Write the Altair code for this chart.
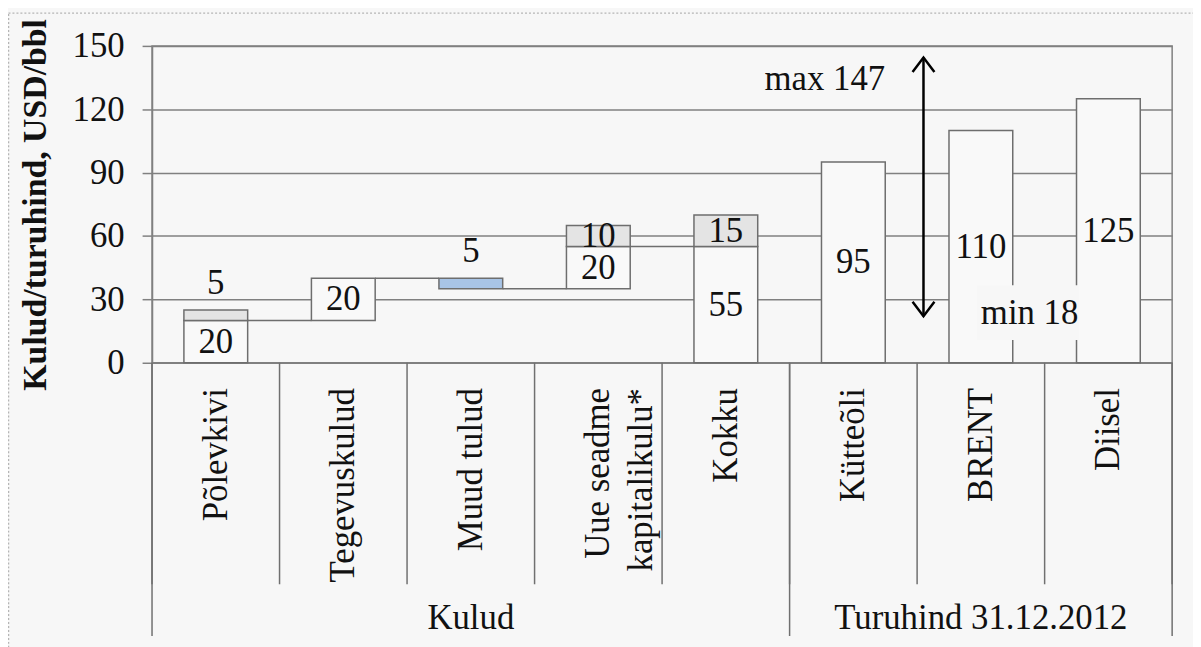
import altair as alt
import pandas as pd

# ---------------- data ----------------
categories = ["Põlevkivi", "Tegevuskulud", "Muud tulud", "Uue seadme\nkapitalikulu*",
              "Kokku", "Kütteõli", "BRENT", "Diisel"]
groups = ["Kulud", "Turuhind 31.12.2012"]
group_start = [0, 5]
group_end = [5, 8]

# bar segments (category index, start, end, kind, where the value label sits)
seg_cat = [0, 0, 1, 2, 3, 3, 4, 4, 5, 6, 7]
seg_start = [0, 20, 20, 35, 35, 55, 0, 55, 0, 0, 0]
seg_end = [20, 25, 40, 40, 55, 65, 55, 70, 95, 110, 125]
seg_kind = ["base", "extra", "base", "income", "base", "extra", "base", "extra", "base", "base", "base"]
seg_label_pos = ["in", "above", "in", "above", "in", "in", "in", "in", "in", "in", "in"]

# connector lines between neighbouring bars
connector_from = [0, 1, 2, 3]
connector_level = [20, 40, 35, 55]

y_ticks = [0, 30, 60, 90, 120, 150]

# price range annotation
price_max = 147
price_min = 18
arrow_top = 144.5      # where the drawn arrow tips sit
arrow_bottom = 22
arrow_pos = 6.05       # in category units
max_text_pos, max_text_y = 5.75, 134.5
min_text_pos, min_text_y = 6.5, 23.5
min_box = (6.47, 7.27, 10.8, 36.7)

# ---------------- styling ----------------
W, H = 1027, 319
FONT = "Liberation Serif"
FS = 35
TXT = "#111111"
LINE = "#6e6e6e"
BG = "#f7f7f7"
YTITLE = "Kulud/turuhind, USD/bbl"

seg_df = pd.DataFrame({
    "cat": [categories[i] for i in seg_cat],
    "start": seg_start,
    "end": seg_end,
    "kind": seg_kind,
    "lpos": seg_label_pos,
})
seg_df["value"] = seg_df["end"] - seg_df["start"]
seg_df["mid"] = (seg_df["start"] + seg_df["end"]) / 2

conn_df = pd.DataFrame({
    "x0": [i + 0.75 for i in connector_from],
    "x1": [i + 1.25 for i in connector_from],
    "level": connector_level,
})

bounds_df = pd.DataFrame({"pos": list(range(len(categories) + 1))})
edges_df = pd.DataFrame({"pos": sorted(set(group_start + group_end))})
grp_df = pd.DataFrame({"name": groups, "s": group_start, "e": group_end})
grp_df["c"] = (grp_df["s"] + grp_df["e"]) / 2

arrow_df = pd.DataFrame({"pos": [arrow_pos], "top": [arrow_top], "bottom": [arrow_bottom]})
heads_df = pd.DataFrame({"pos": [arrow_pos, arrow_pos], "y": [arrow_top, arrow_bottom],
                         "dir": ["up", "down"]})
note_df = pd.DataFrame({
    "pos": [max_text_pos, min_text_pos],
    "y": [max_text_y, min_text_y],
    "text": [f"max {price_max}", f"min {price_min}"],
    "align": ["right", "left"],
})
box_df = pd.DataFrame({"x0": [min_box[0]], "x1": [min_box[1]], "y0": [min_box[2]], "y1": [min_box[3]]})
one_df = pd.DataFrame({"k": [0]})

yscale = alt.Scale(domain=[0, 150], nice=False, zero=True)


def Y(field, axis=False):
    if axis:
        return alt.Y(field, scale=yscale, title=YTITLE, axis=alt.Axis(
            values=y_ticks, grid=True, gridColor="#808080", gridWidth=1.5,
            domainColor="#808080", domainWidth=1.5, tickColor="#808080", tickWidth=1.5,
            tickSize=10, labelFont=FONT, labelFontSize=FS, labelColor=TXT, labelPadding=18,
            titleFont=FONT, titleFontSize=34, titleFontWeight="bold", titleColor=TXT,
            titlePadding=20))
    return alt.Y(field, scale=yscale, title=YTITLE)


band_scale = alt.Scale(domain=categories, paddingInner=0, paddingOuter=0)
xband_axis = alt.X("cat:N", sort=categories, scale=band_scale, title=None, axis=alt.Axis(
    ticks=False, domain=True, domainColor="#808080", domainWidth=1.5,
    labelAngle=270, labelAlign="right", labelBaseline="middle", labelPadding=25,
    labelFont=FONT, labelFontSize=FS, labelColor=TXT, labelLimit=500, labelLineHeight=43,
    labelExpr="split(datum.label, '\\n')"))
xband = alt.X("cat:N", sort=categories, scale=band_scale, title=None)

bars = alt.Chart(seg_df).mark_bar(
    width=alt.RelativeBandSize(0.5), stroke=LINE, strokeWidth=1.5
).encode(
    x=xband_axis,
    y=Y("start:Q", axis=True),
    y2="end:Q",
    fill=alt.Fill("kind:N", scale=alt.Scale(domain=["base", "extra", "income"],
                                            range=["#f9f9f9", "#e4e4e4", "#a8c4e6"]), legend=None),
)

lab_in = alt.Chart(seg_df).transform_filter("datum.lpos == 'in'").mark_text(
    font=FONT, fontSize=FS, color=TXT, baseline="middle"
).encode(x=xband, y=Y("mid:Q"), text="value:Q")

lab_above = alt.Chart(seg_df).transform_filter("datum.lpos == 'above'").mark_text(
    font=FONT, fontSize=FS, color=TXT, baseline="middle", dy=-27
).encode(x=xband, y=Y("end:Q"), text="value:Q")

band_group = alt.layer(bars, lab_in, lab_above)

qscale = alt.Scale(domain=[0, len(categories)], nice=False, zero=False)


def XQ(field):
    return alt.X(field, scale=qscale, axis=None, title=None)


frame = alt.Chart(one_df).mark_rect(
    fill=None, stroke="#b5b5b5", strokeWidth=1.5, strokeDash=[2, 2]
).encode(x=alt.value(-144.5), x2=alt.value(W + 200), y=alt.value(-33), y2=alt.value(H + 400))

connectors = alt.Chart(conn_df).mark_rule(color=LINE, strokeWidth=1.5).encode(
    x=XQ("x0:Q"), x2="x1:Q", y=Y("level:Q"))

seps = alt.Chart(bounds_df).mark_rule(color="#707070", strokeWidth=1.5).encode(
    x=XQ("pos:Q"), y=alt.value(H), y2=alt.value(H + 223))

edges = alt.Chart(edges_df).mark_rule(color="#707070", strokeWidth=1.5).encode(
    x=XQ("pos:Q"), y=alt.value(H), y2=alt.value(H + 275))

grp_text = alt.Chart(grp_df).mark_text(
    font=FONT, fontSize=FS, color=TXT, baseline="middle"
).encode(x=XQ("c:Q"), y=alt.value(H + 257), text="name:N")

box = alt.Chart(box_df).mark_rect(fill=BG, stroke=None).encode(
    x=XQ("x0:Q"), x2="x1:Q", y=Y("y0:Q"), y2="y1:Q")

arrow = alt.Chart(arrow_df).mark_rule(color="#000000", strokeWidth=2.5).encode(
    x=XQ("pos:Q"), y=Y("top:Q"), y2="bottom:Q")

head_up = alt.Chart(heads_df).transform_filter("datum.dir == 'up'").mark_point(
    shape="M-0.75,1L0,0L0.75,1", size=860, filled=False, stroke="#000000", strokeWidth=2.5, opacity=1
).encode(x=XQ("pos:Q"), y=Y("y:Q"))

head_down = alt.Chart(heads_df).transform_filter("datum.dir == 'down'").mark_point(
    shape="M-0.75,-1L0,0L0.75,-1", size=860, filled=False, stroke="#000000", strokeWidth=2.5, opacity=1
).encode(x=XQ("pos:Q"), y=Y("y:Q"))

note_r = alt.Chart(note_df).transform_filter("datum.align == 'right'").mark_text(
    font=FONT, fontSize=FS, color=TXT, baseline="middle", align="right"
).encode(x=XQ("pos:Q"), y=Y("y:Q"), text="text:N")

note_l = alt.Chart(note_df).transform_filter("datum.align == 'left'").mark_text(
    font=FONT, fontSize=FS, color=TXT, baseline="middle", align="left"
).encode(x=XQ("pos:Q"), y=Y("y:Q"), text="text:N")

quant_group = alt.layer(frame, connectors, seps, edges, grp_text, box, arrow,
                        head_up, head_down, note_r, note_l)

chart = alt.layer(band_group, quant_group).resolve_scale(x="independent").properties(
    width=W, height=H,
    autosize=alt.AutoSizeParams(type="none"),
    padding={"left": 145, "top": 36, "right": 21, "bottom": 284},
).configure(
    background=BG, font=FONT
).configure_view(
    stroke="#808080", strokeWidth=1.5
)

chart.save("out.html", embed_options={"renderer": "svg", "actions": False})
